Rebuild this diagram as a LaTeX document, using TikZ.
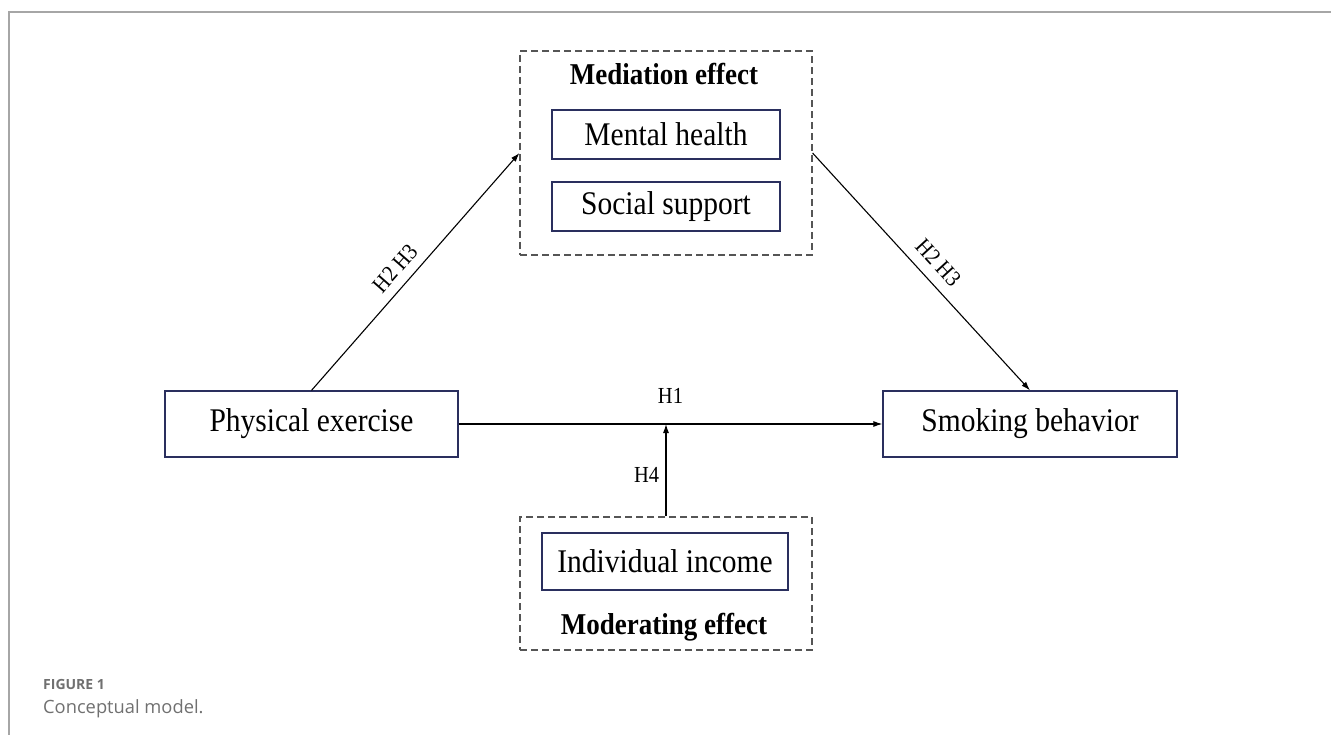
\documentclass[tikz,border=0pt]{standalone}
\usepackage{graphicx}
\usepackage{fontspec}
\setmainfont{Liberation Serif}
\newfontfamily\capfont{Open Sans}
\usetikzlibrary{arrows.meta}
\definecolor{navy}{HTML}{2A2F5E}
\definecolor{dashgrey}{HTML}{555555}
\definecolor{framegrey}{HTML}{A6A6A6}
\definecolor{capgrey}{HTML}{707070}
\newcommand\vstretch[1]{\scalebox{1}[1.12]{#1}}
\tikzset{
  box/.style={draw=navy, line width=1.2pt, inner sep=0pt, font=\fontsize{29.5}{33}\selectfont},
  group/.style={draw=dashgrey, dashed, dash pattern=on 7pt off 4pt, line width=1.1pt, inner sep=0pt},
  title/.style={font=\fontsize{27}{31}\selectfont\bfseries},
  hlab/.style={font=\fontsize{20.5}{24}\selectfont},
  link/.style={line width=1.1pt, -{Latex[length=9pt,width=6pt]}},
}
\begin{document}
\begin{tikzpicture}[x=1pt,y=-1pt]
\useasboundingbox (0,0) rectangle (1331,735);
% frame
\draw[framegrey, line width=1.3pt] (9,735) -- (9,12) -- (1331,12);
% groups
\node[group, minimum width=292pt, minimum height=204pt] (med) at (666,153) {};
\node[group, minimum width=292pt, minimum height=133pt] (mod) at (666,583.5) {};
\node[title] (medt) at (664,74) {\vstretch{Mediation effect}};
\node[title] (modt) at (664,627) {\vstretch{Moderating effect}};
% boxes
\node[box, minimum width=228pt, minimum height=49pt] (mh) at (666,134.5) {\vstretch{Mental health}};
\node[box, minimum width=228pt, minimum height=49pt] (ss) at (666,206.5) {\vstretch{Social support}};
\node[box, minimum width=246pt, minimum height=57pt] (ic) at (665,561.5) {\vstretch{Individual income}};
\node[box, minimum width=293pt, minimum height=66pt] (pe) at (311.5,424) {\vstretch{Physical exercise}};
\node[box, minimum width=294pt, minimum height=66pt] (sb) at (1030,424) {\vstretch{Smoking behavior}};
% connectors
\coordinate (mid) at (666,424);
\draw[link] (pe.east) -- node[hlab, above=17pt] {\vstretch{H1}} (sb.west);
\draw[link] (mod.north) -- node[hlab, left=3pt, pos=0.45] {\vstretch{H4}} (mid);
\draw[link] (pe.north) -- node[hlab, sloped, above=6pt, pos=0.465] {\vstretch{H2 H3}} (med.west);
\draw[link] (med.east) -- node[hlab, sloped, above=7pt, pos=0.515] {\vstretch{H2 H3}} (sb.north);
% caption
\node[anchor=base west, inner sep=0pt, text=capgrey, font=\capfont\bfseries\fontsize{14}{16}\selectfont] (fig) at (43,689) {FIGURE 1};
\node[anchor=base west, inner sep=0pt, text=capgrey, font=\capfont\fontsize{18.3}{21}\selectfont] (cap) at (43,713) {Conceptual model.};
\end{tikzpicture}
\end{document}
